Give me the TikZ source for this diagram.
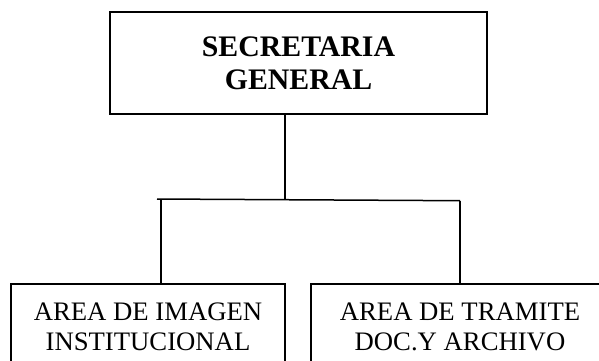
\documentclass[tikz,border=0pt]{standalone}
\usepackage{fontspec}
\setmainfont{Liberation Serif}
\usepackage{tikz}

\tikzset{
  jefe/.style={draw, line width=1.5pt, minimum width=377pt, minimum height=102pt,
    align=center, font=\fontsize{29.8}{33}\selectfont\bfseries},
  area/.style={draw, line width=1.5pt, minimum height=86pt, anchor=north,
    align=center, font=\fontsize{26.7}{30}\selectfont},
}

\begin{document}
\begin{tikzpicture}[x=1pt, y=-1pt, line width=1.5pt]
                  \useasboundingbox (0,0) rectangle (599,360);
                  \clip (0,0) rectangle (599,360);

                  \node[jefe] (sg) at (298.5,63) {SECRETARIA\\GENERAL};

                  \node[area, minimum width=274pt] (imagen) at (148,283) {AREA DE IMAGEN\\INSTITUCIONAL};
                  \node[area, minimum width=298pt] (tramite) at (460,283) {AREA DE TRAMITE\\DOC.Y ARCHIVO};

                  \coordinate (jn) at (285,199.5); %junction
                  \coordinate (bl) at (157,199);
                  \coordinate (br) at (460,200.7);

                  \draw (sg.south -| jn) -- (jn);
                  \draw (bl) -- (br);
                  \draw (161,199) -- (imagen.north -| 161,0);
                  \draw (br) -- (tramite.north);
              \end{tikzpicture}
\end{document}
